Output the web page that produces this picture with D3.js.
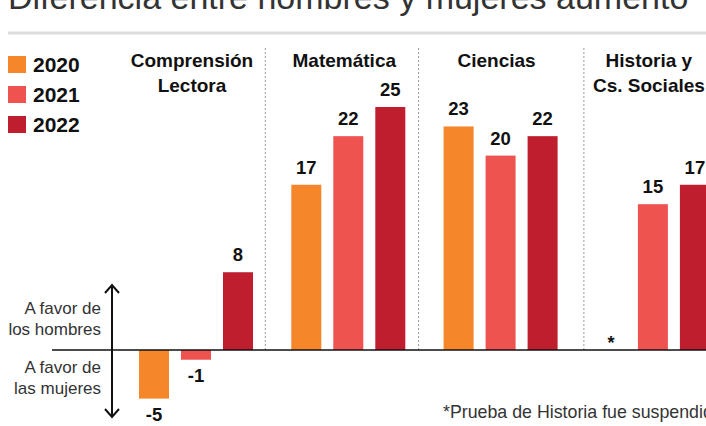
<!DOCTYPE html>
<html>
<head>
<meta charset="utf-8">
<script src="https://cdn.jsdelivr.net/npm/d3@7"></script>
<style>
  body { margin: 0; background: #fff; }
  svg { display: block; font-family: 'Liberation Sans', Arial, sans-serif; }
</style>
</head>
<body>
<div id="chart"></div>
<script>
const subjects = ['Comprensión Lectora', 'Matemática', 'Ciencias', 'Historia y Cs. Sociales']
const subjectLines = [['Comprensión', 'Lectora'], ['Matemática'], ['Ciencias'], ['Historia y', 'Cs. Sociales']]
const years = ['2020', '2021', '2022']
const values2020 = [-5, 17, 23, null]
const values2021 = [-1, 22, 20, 15]
const values2022 = [8, 25, 22, 17]
const colors = ['#f5862a', '#ee5350', '#be1e2e']

const width = 706
const height = 426

const svg = d3.select('#chart')
  .append('svg')
  .attr('width', width)
  .attr('height', height)

// title (cut by the top edge)
svg.append('text')
  .attr('x', 8)
  .attr('y', 9)
  .attr('font-size', '34px')
  .attr('fill', '#333')
  .text('Diferencia entre hombres y mujeres aumentó')

svg.append('line')
  .attr('x1', 8).attr('x2', width)
  .attr('y1', 33).attr('y2', 33)
  .attr('stroke', '#dcdcdc')
  .attr('stroke-width', 3)

const x0 = d3.scaleBand()
  .domain(subjects)
  .range([139, 139 + 4 * 152.3])

const x1 = d3.scaleBand()
  .domain(years)
  .range([0, 114])
  .paddingInner(12 / 42)

const y = d3.scaleLinear()
  .domain([0, 25])
  .range([350, 107])

const series = [values2020, values2021, values2022]
const data = []
subjects.forEach((s, i) => {
  years.forEach((yr, j) => {
    data.push({ subject: s, year: yr, value: series[j][i], color: colors[j] })
  })
})

// dotted dividers
const dividerOffset = [-26, -25, -12]
svg.selectAll('.divider')
  .data(subjects.slice(1))
  .enter()
  .append('line')
    .attr('class', 'divider')
    .attr('x1', (d, i) => x0(d) + dividerOffset[i])
    .attr('x2', (d, i) => x0(d) + dividerOffset[i])
    .attr('y1', 48)
    .attr('y2', y(0))
    .attr('stroke', '#999')
    .attr('stroke-width', 1)
    .attr('stroke-dasharray', '2,2')

// subject headers
subjects.forEach((s, i) => {
  const cx = x0(s) + x1.range()[1] / 2 - 4
  const t = svg.append('text')
    .attr('text-anchor', 'middle')
    .attr('font-size', '19px')
    .attr('font-weight', 'bold')
    .attr('fill', '#111')
  subjectLines[i].forEach((line, k) => {
    t.append('tspan')
      .attr('x', cx)
      .attr('y', 67 + k * 25)
      .text(line)
  })
})

const bars = data.filter(d => d.value !== null)

svg.selectAll('rect.bar')
  .data(bars)
  .enter()
  .append('rect')
    .attr('class', 'bar')
    .attr('x', d => x0(d.subject) + x1(d.year))
    .attr('y', d => y(Math.max(0, d.value)))
    .attr('width', x1.bandwidth())
    .attr('height', d => Math.abs(y(d.value) - y(0)))
    .attr('fill', d => d.color)

svg.selectAll('text.val')
  .data(bars)
  .enter()
  .append('text')
    .attr('class', 'val')
    .attr('x', d => x0(d.subject) + x1(d.year) + x1.bandwidth() / 2)
    .attr('y', d => d.value >= 0 ? y(d.value) - 11 : y(d.value) + 22)
    .attr('text-anchor', 'middle')
    .attr('font-size', '18.5px')
    .attr('font-weight', 'bold')
    .attr('fill', '#111')
    .text(d => d.value)

// asterisk for missing value
svg.selectAll('text.missing')
  .data(data.filter(d => d.value === null))
  .enter()
  .append('text')
    .attr('class', 'missing')
    .attr('x', d => x0(d.subject) + x1(d.year) + x1.bandwidth() / 2)
    .attr('y', y(0) - 1)
    .attr('text-anchor', 'middle')
    .attr('font-size', '18px')
    .attr('font-weight', 'bold')
    .attr('fill', '#111')
    .text('*')

// zero line
svg.append('line')
  .attr('x1', 52).attr('x2', width)
  .attr('y1', y(0)).attr('y2', y(0))
  .attr('stroke', '#111')
  .attr('stroke-width', 1.5)

// double arrow
const ax = 112
svg.append('line')
  .attr('x1', ax).attr('x2', ax)
  .attr('y1', 285).attr('y2', 417)
  .attr('stroke', '#111')
  .attr('stroke-width', 2)
svg.append('path')
  .attr('d', `M${ax - 7},${293} L${ax},${285} L${ax + 7},${293} M${ax - 7},${409} L${ax},${417} L${ax + 7},${409}`)
  .attr('fill', 'none')
  .attr('stroke', '#111')
  .attr('stroke-width', 2)

const sideLabels = [['A favor de', 314], ['los hombres', 335], ['A favor de', 373], ['las mujeres', 394]]
svg.selectAll('text.side')
  .data(sideLabels)
  .enter()
  .append('text')
    .attr('class', 'side')
    .attr('x', 101)
    .attr('y', d => d[1])
    .attr('text-anchor', 'end')
    .attr('font-size', '17px')
    .attr('fill', '#333')
    .text(d => d[0])

// legend
const legend = svg.selectAll('g.legend')
  .data(years)
  .enter()
  .append('g')
    .attr('class', 'legend')
    .attr('transform', (d, i) => `translate(8, ${56 + i * 30})`)
legend.append('rect')
  .attr('width', 18)
  .attr('height', 17)
  .attr('fill', (d, i) => colors[i])
legend.append('text')
  .attr('x', 25)
  .attr('y', 16)
  .attr('font-size', '21px')
  .attr('font-weight', 'bold')
  .attr('fill', '#111')
  .text(d => d)

svg.append('text')
  .attr('x', 443)
  .attr('y', 418)
  .attr('font-size', '17.8px')
  .attr('fill', '#333')
  .text('*Prueba de Historia fue suspendida')
</script>
</body>
</html>
